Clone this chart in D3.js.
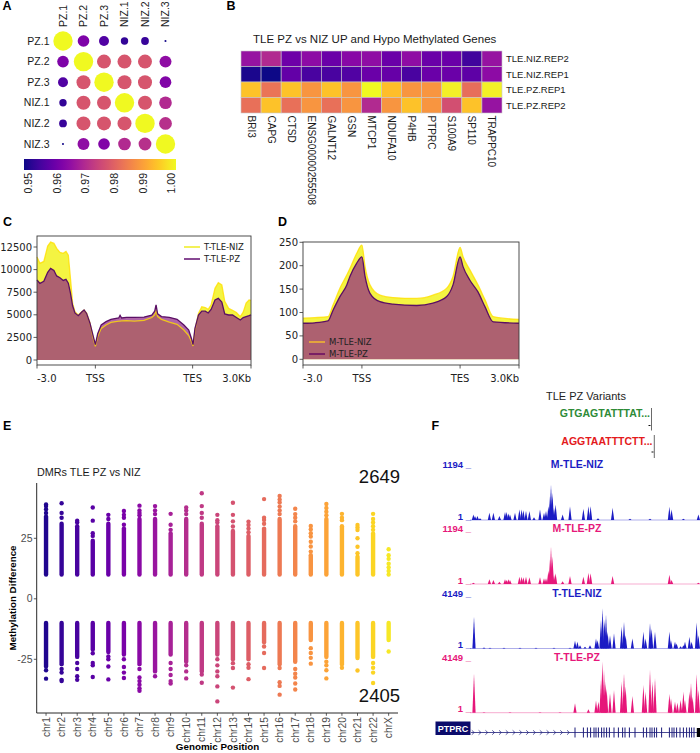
<!DOCTYPE html>
<html><head><meta charset="utf-8">
<script src="https://cdn.jsdelivr.net/npm/d3@7"></script>
<style>body{margin:0;background:#fff}svg{display:block}</style>
</head><body>
<svg id="fig" width="700" height="753"></svg>
<script>
// ---------------- DATA ----------------
// Panel A: correlation matrix
const corrLabels = ["PZ.1","PZ.2","PZ.3","NIZ.1","NIZ.2","NIZ.3"];
const corrValues = [
  [1.000,0.9625,0.957,0.9535,0.9540,0.9505],
  [0.9625,1.000,0.9775,0.9775,0.9775,0.9650],
  [0.957,0.9775,1.000,0.9775,0.9775,0.9630],
  [0.9535,0.9775,0.9775,1.000,0.9775,0.9700],
  [0.9540,0.9775,0.9775,0.9775,1.000,0.9710],
  [0.9505,0.9650,0.9630,0.9700,0.9710,1.000]
];
const colorbarTicks = [0.95,0.96,0.97,0.98,0.99,1.00];

// Panel B: heatmap (scaled, 0..1)
const heatGenes = ["BRI3","CAPG","CTSD","ENSG00000255508","GALNT12","GSN","MTCP1","NDUFA10","P4HB","PTPRC","S100A9","SP110","TRAPPC10"];
const heatSamples = ["TLE.NIZ.REP2","TLE.NIZ.REP1","TLE.PZ.REP1","TLE.PZ.REP2"];
const heatValues = [
  [0.32,0.40,0.21,0.29,0.20,0.28,0.30,0.20,0.30,0.20,0.20,0.10,0.32],
  [0.02,0.00,0.18,0.12,0.12,0.14,0.20,0.19,0.12,0.20,0.20,0.17,0.29],
  [0.87,0.65,0.87,0.75,0.87,0.75,1.00,0.86,0.75,0.75,0.98,0.63,0.98],
  [0.64,0.87,0.64,0.75,0.64,0.75,0.40,0.75,0.87,0.75,0.53,0.87,0.32]
];
const heatTitle = "TLE PZ vs NIZ UP and Hypo Methylated Genes";

// Panel C: T-TLE profiles (metagene kb: 0 = -3.0, 3 = TSS, 8 = TES, 11 = +3.0Kb)
const posC = [0,0.15,0.35,0.55,0.7,0.87,1.01,1.18,1.35,1.49,1.61,1.72,1.83,1.95,2.12,2.3,2.42,2.55,2.72,2.87,3.0,3.12,3.3,3.55,3.8,4.2,4.27,4.35,4.6,5.0,5.5,5.9,6.05,6.12,6.2,6.4,6.8,7.2,7.55,7.8,7.95,8.02,8.12,8.3,8.47,8.65,8.8,8.95,9.15,9.32,9.5,9.65,9.85,10.05,10.25,10.45,10.6,10.75,10.9,11.0];
const nizC = [11400,10700,10900,12600,13050,12900,12350,11900,11800,12000,11600,9000,6300,5340,4980,5350,5530,5200,4090,2580,1500,2600,3500,3870,4150,4300,4300,4330,4350,4300,4380,4700,5000,5400,4800,4500,4200,3950,3320,2700,2000,1550,3300,5160,5900,5800,5600,6100,7930,8550,8300,6500,5710,5500,5250,4790,5300,6300,6640,6600];
const pzC = [8850,8480,8700,9700,10140,9900,9300,9100,8800,8920,8500,7400,6000,5200,4900,5300,5530,5150,4090,2800,1700,2900,3870,4240,4500,4650,4950,4650,4720,4720,4750,4950,5400,6100,5100,4800,4720,4500,3870,3300,2300,1700,3500,4980,5400,5400,5200,5600,6640,6820,6400,5100,4980,4980,4700,4420,4700,4800,4900,4980];
const yTicksC = [0,2500,5000,7500,10000,12500];
const legendC = ["T-TLE-NIZ","T-TLE-PZ"];

// Panel D: M-TLE profiles
const posD = [0,0.6,1.27,1.53,1.88,2.23,2.39,2.73,3.0,3.16,3.41,3.92,4.58,5.79,6.62,7.32,7.64,8.0,8.15,8.5,8.91,9.27,9.69,11];
const nizD = [88,89,91,116,152,180,194,226,244,198,159,137,132,130,137,152,177,239,219,191,159,127,91,85];
const pzD = [77,78,82,105,134,159,177,205,219,177,141,123,118,115,120,134,159,219,198,169,144,112,80,77];
const yTicksD = [0,50,100,150,200,250];
const legendD = ["M-TLE-NIZ","M-TLE-PZ"];
const profileTicks = [[0,"-3.0"],[3,"TSS"],[8,"TES"],[11,"3.0Kb"]];

// Panel E: DMRs
const chroms = ["chr1","chr2","chr3","chr4","chr5","chr6","chr7","chr8","chr9","chr10","chr11","chr12","chr13","chr14","chr15","chr16","chr17","chr18","chr19","chr20","chr21","chr22","chrX"];
const denseHigh = [34,31,30,24,31,29,33,33,27,33,31,30,28,26,29,33,30,18,33,30,17.4,27,10];
const denseLow = [-28,-27,-24,-21,-22,-23,-27,-30,-23,-26,-30,-23,-25,-25,-18,-27,-26,-17,-24,-27,-24.5,-24,-17];
const outliersHigh = [
  [35.5,37,38.3,39],[33.5,35.5,39.5],[31.5,32.3],[26,27.1,32.3,37.7],[33,34.7],
  [30.6,33.5,34.7,36.3],[34.5,35.5,36.5,38.5],[35,36.5,38.3],[28.5,30.6,35.1],[35,36.5,37.7],
  [33.5,35.5,38.3,43.6],[31.5,32.5,34.7],[29.9,32,34.7,39.7],[27.5,29,30.5,31.9],[31,32.6,33.5,41.2],
  [35,36.5,38.1,39.8,41,42.5],[32,33.5,35,37.2],[19.5,21.6,23.6,25.7,27.1,28.7,30.1],[34.5,36,37.5,39.2],[32.5,33.5,35.1],
  [18.8,21.5,25,28.4,29.5,30.5],[28.5,30,31.5,33,35.1],[11.5,13,14.5,16.5,18,20.5]
];
const outliersLow = [
  [-29.5,-33],[-29,-30.5,-33.5,-34],[-26.5,-29,-32,-33.5],[-22.5,-26.5,-27.5,-32.3],[-23.8,-25,-28,-33.3],
  [-25,-28.2,-30.5,-32.7],[-29,-32.5,-34,-35.5,-37,-38],[-32],[-26.5,-29,-31.5,-34,-35],[-27.5,-30,-32.9],
  [-31.3,-34.7],[-25,-27.5,-30,-32,-36.2,-42.4],[-26.6,-28.6,-36.7],[-27,-28.5,-33.2],[-19.7,-22.4,-28.6],
  [-28.6,-34.5,-36,-39.6],[-29,-31,-32.5,-35,-37.5],[-20.4,-22.4,-24.4,-26.8],[-26,-27.5,-29.5,-32.9],[-28.5],
  [-29.6],[-26.5,-28.5,-30.5,-34.8],[-21.8]
];
const yTicksE = [-25,0,25];
const countUp = "2649", countDown = "2405";

// Panel F: genome browser (positions in kb across locus)
const variantSeqs = ["GTGAGTATTTAT...","AGGTAATTTCTT..."];
const trackNames = ["M-TLE-NIZ","M-TLE-PZ","T-TLE-NIZ","T-TLE-PZ"];
const trackMax = [1194,1194,4149,4149];
const trackMNIZ = [[1.7,126],[2.5,89],[3.7,89],[5,40],[9.7,163],[11.7,163],[14.7,89],[17.5,178],[18.3,178],[19.2,148],[20,126],[22.5,163],[24.7,237],[25.8,237],[26.7,222],[28,200],[29.7,200],[32,60],[35,237],[37,163],[38,200],[39.2,311],[40,534],[40.5,793],[41.2,608],[42,274],[42.8,348],[46.3,126],[50,311],[56.7,252],[59.2,311],[60.3,311],[64,40],[71.3,274],[80,30],[90,30],[99.7,296],[100.8,237],[106.7,30],[114.2,126]];
const trackMPZ = [[1.7,30],[9.7,105],[11.7,90],[14.7,53],[17.5,105],[18.3,90],[19.2,105],[20,90],[24.7,165],[25.8,165],[26.7,150],[28,165],[29.7,150],[35,150],[37,128],[38,128],[39.2,300],[40,560],[40.5,840],[41.2,620],[42,203],[42.8,240],[46.3,60],[50,180],[56.7,165],[59.2,255],[60.3,240],[71.3,180],[99.7,210],[100.8,90],[114.2,30]];
const trackTNIZ = [[2,2510],[7,79],[10,53],[17,53],[25,53],[33,53],[42,53],[50,53],[52.5,608],[53.7,529],[55,264],[57.5,132],[60,264],[63,793],[63.8,661],[65.5,2246],[66.3,3171],[67.2,2246],[68,2643],[68.8,1321],[70,1057],[72,1189],[75.8,1718],[77,2114],[77.8,1057],[81.2,793],[86.7,1321],[87.8,793],[90,1982],[90.8,1586],[92.5,1321],[99.7,1321],[100.5,661],[102.5,529],[103.3,396],[105.3,185],[106.7,264],[107.5,529],[109.7,925],[110.8,529],[113.3,2061],[114.2,1057]];
const trackTPZ = [[2,3099],[7,40],[20,30],[35,30],[45,30],[52.5,735],[59.2,263],[63,945],[64.2,866],[65.5,2573],[66.2,4017],[67,3361],[67.8,2442],[68.3,1917],[70,1523],[72,1786],[75.8,2442],[77,3099],[77.8,2048],[81.2,1313],[86.7,2180],[87.8,1654],[90,3361],[91.2,2442],[92.5,2705],[99.7,1470],[100.5,1129],[102.5,866],[103.7,788],[105.3,998],[106.7,1654],[107.5,998],[109.7,1654],[110.5,2311],[111.3,1260],[113.3,3046],[114.2,1786]];
const exonsKb = [52.5,56.7,58.7,60.3,62,63,64.2,65.8,67,68.3,69.7,72,74.2,76.3,77.5,79.7,82.5,86.7,88.3,90,91,92.2,93.3,95.8,99.7,101,102,103.3,105,106.7,108.3,109.7,110.8,112];
const geneName = "PTPRC";

// ---------------- DRAWING ----------------
const SANS = "'Liberation Sans', Arial, Helvetica, sans-serif";
const DEJA = "'DejaVu Sans', sans-serif";
const svg = d3.select("#fig");
svg.append("rect").attr("width",700).attr("height",753).attr("fill","#fff");
const defs = svg.append("defs");

// panel letters
[["A",2.5,10],["B",226.5,10],["C",3,226],["D",278,226],["E",3,429.5],["F",431.5,430]].forEach(([t,x,y])=>{
  svg.append("text").attr("x",x).attr("y",y).attr("font-family",SANS).attr("font-weight","bold").attr("font-size",12.5).text(t);
});

// ===== Panel A =====
{
  const g = svg.append("g").attr("font-family",SANS).attr("fill","#1a1a1a");
  const x = d3.scalePoint().domain(corrLabels).range([63,165.5]);
  const y = d3.scalePoint().domain(corrLabels).range([41,144]);
  const col = d3.scaleSequential(d3.interpolatePlasma).domain([0.95,1]);
  const r = d3.scaleLinear().domain([0.95,0.9535,0.957,0.9625,0.97,0.9775,1]).range([0.6,3.7,5,5.8,6.3,7,9.7]).clamp(true);
  corrLabels.forEach((rl,i)=>corrLabels.forEach((cl,j)=>{
    g.append("circle").attr("cx",x(cl)).attr("cy",y(rl)).attr("r",r(corrValues[i][j])).attr("fill",col(corrValues[i][j]));
  }));
  g.selectAll("text.rl").data(corrLabels).join("text").attr("class","rl")
    .attr("x",49.5).attr("y",d=>y(d)).attr("dy","0.35em").attr("text-anchor","end").attr("font-size",10.5).text(d=>d);
  g.selectAll("text.cl").data(corrLabels).join("text").attr("class","cl")
    .attr("transform",d=>`translate(${x(d)},27) rotate(-90)`).attr("dy","0.35em").attr("font-size",10.5).text(d=>d);
  const grad = defs.append("linearGradient").attr("id","plasmaGrad");
  d3.range(0,1.0001,0.05).forEach(t=>grad.append("stop").attr("offset",t).attr("stop-color",d3.interpolatePlasma(t)));
  g.append("rect").attr("x",24).attr("y",159).attr("width",152).attr("height",11).attr("fill","url(#plasmaGrad)");
  const cb = d3.scaleLinear().domain([0.95,1]).range([28.3,171.7]);
  g.selectAll("text.cb").data(colorbarTicks).join("text").attr("class","cb")
    .attr("transform",d=>`translate(${cb(d)},173) rotate(-90)`).attr("dy","0.35em").attr("text-anchor","end")
    .attr("font-size",10.5).text(d=>d.toFixed(2));
}

// ===== Panel B =====
{
  const g = svg.append("g").attr("font-family",SANS).attr("fill","#1a1a1a");
  const x = d3.scaleBand().domain(heatGenes).range([241,502]);
  const y = d3.scaleBand().domain(heatSamples).range([51,113]);
  const col = d3.scaleSequential(d3.interpolatePlasma).domain([0,1]);
  heatSamples.forEach((s,i)=>heatGenes.forEach((gn,j)=>{
    g.append("rect").attr("x",x(gn)).attr("y",y(s)).attr("width",x.bandwidth()).attr("height",y.bandwidth())
      .attr("fill",col(heatValues[i][j])).attr("stroke","#c9c9c9").attr("stroke-width",0.6);
  }));
  g.append("text").attr("x",253).attr("y",43).attr("font-size",11.5).text(heatTitle);
  g.selectAll("text.rl").data(heatSamples).join("text").attr("class","rl")
    .attr("x",506).attr("y",d=>y(d)+y.bandwidth()/2).attr("dy","0.35em").attr("font-size",9.5).text(d=>d);
  g.selectAll("text.cl").data(heatGenes).join("text").attr("class","cl")
    .attr("transform",d=>`translate(${x(d)+x.bandwidth()/2},115.5) rotate(90)`).attr("dy","0.35em")
    .attr("font-size",10).text(d=>d);
}

// ===== profile plot helper (C, D) =====
function profile(opt){
  const g = svg.append("g").attr("font-family",DEJA).attr("fill","#222");
  const x = d3.scaleLinear().domain([0,11]).range([opt.x0,opt.x1]);
  const y = d3.scaleLinear().domain([0,opt.topVal]).range([opt.y0,opt.yTop]);
  const dataN = opt.pos.map((p,i)=>[p,opt.niz[i]]);
  const dataP = opt.pos.map((p,i)=>[p,opt.pz[i]]);
  const curve = opt.curve;
  const area = d3.area().x(d=>x(d[0])).y0(y(0)).y1(d=>y(d[1])).curve(curve);
  const line = d3.line().x(d=>x(d[0])).y(d=>y(d[1])).curve(curve);
  g.append("path").attr("d",area(dataN)).attr("fill","#f4f442");
  g.append("path").attr("d",area(dataP)).attr("fill","#8f2284").attr("fill-opacity",0.7);
  g.append("path").attr("d",line(dataN)).attr("fill","none").attr("stroke","#ffe000").attr("stroke-opacity",0.8).attr("stroke-width",1.3);
  g.append("path").attr("d",line(dataP)).attr("fill","none").attr("stroke","#5a0f64").attr("stroke-width",1.3);
  g.append("rect").attr("x",opt.x0).attr("y",opt.frameTop).attr("width",opt.x1-opt.x0).attr("height",opt.frameBot-opt.frameTop)
    .attr("fill","none").attr("stroke","#3a3a3a").attr("stroke-width",0.9);
  opt.yTicks.forEach(t=>{
    g.append("line").attr("x1",opt.x0-3.5).attr("x2",opt.x0).attr("y1",y(t)).attr("y2",y(t)).attr("stroke","#333").attr("stroke-width",0.8);
    g.append("text").attr("x",opt.x0-5).attr("y",y(t)).attr("dy","0.35em").attr("text-anchor","end").attr("font-size",10).text(t);
  });
  profileTicks.forEach(([p,l],i)=>{
    g.append("line").attr("x1",x(p)).attr("x2",x(p)).attr("y1",opt.frameBot).attr("y2",opt.frameBot+3.5).attr("stroke","#333").attr("stroke-width",0.8);
    g.append("text").attr("x",x(p)).attr("y",opt.frameBot+16.5)
      .attr("text-anchor", i===0?"start":(i===profileTicks.length-1?"end":"middle")).attr("font-size",10).text(l);
  });
  opt.legend.forEach((l,i)=>{
    const ly = opt.legY + i*12;
    g.append("line").attr("x1",opt.legX).attr("x2",opt.legX+16).attr("y1",ly).attr("y2",ly)
      .attr("stroke",opt.legCols[i]).attr("stroke-width",1.6);
    g.append("text").attr("x",opt.legX+20).attr("y",ly).attr("dy","0.35em").attr("font-size",8.5).text(l);
  });
}
profile({x0:37,x1:251,y0:360,yTop:247,topVal:12500,frameTop:236,frameBot:365,pos:posC,niz:nizC,pz:pzC,
  yTicks:yTicksC,legend:legendC,legX:184,legY:247,legCols:["#f0ee30","#6a1b78"],curve:d3.curveLinear});
profile({x0:303,x1:519,y0:359.3,yTop:242.3,topVal:250,frameTop:242,frameBot:365,pos:posD,niz:nizD,pz:pzD,
  yTicks:yTicksD,legend:legendD,legX:309,legY:342,legCols:["#f2b531","#6d0f63"],curve:d3.curveMonotoneX});

// ===== Panel E =====
{
  const g = svg.append("g").attr("font-family",SANS);
  const x = d3.scalePoint().domain(chroms).range([36.7,398]).padding(0.6);
  const y = d3.scaleLinear().domain([-25,25]).range([659.3,538.3]);
  const col = i => d3.interpolatePlasma(0.03 + i*(0.93/22));
  chroms.forEach((c,i)=>{
    const cx = x(c), fill = col(i);
    [[10,denseHigh[i]],[-10,denseLow[i]]].forEach(([a,b])=>{
      if (Math.abs(b) > Math.abs(a)) {
        g.append("line").attr("x1",cx).attr("x2",cx).attr("y1",y(a)).attr("y2",y(b))
          .attr("stroke",fill).attr("stroke-width",4.4).attr("stroke-linecap","round");
      } else {
        g.append("circle").attr("cx",cx).attr("cy",y(a)).attr("r",2.2).attr("fill",fill);
      }
    });
    outliersHigh[i].concat(outliersLow[i]).forEach(v=>{
      g.append("circle").attr("cx",cx).attr("cy",y(v)).attr("r",2.2).attr("fill",fill);
    });
  });
  g.append("line").attr("x1",36.7).attr("x2",36.7).attr("y1",483).attr("y2",713).attr("stroke","#111").attr("stroke-width",0.9);
  g.append("line").attr("x1",36.7).attr("x2",398).attr("y1",713).attr("y2",713).attr("stroke","#111").attr("stroke-width",0.9);
  yTicksE.forEach(t=>{
    g.append("line").attr("x1",33.8).attr("x2",36.7).attr("y1",y(t)).attr("y2",y(t)).attr("stroke","#333").attr("stroke-width",0.8);
    g.append("text").attr("x",32.5).attr("y",y(t)).attr("dy","0.35em").attr("text-anchor","end").attr("font-size",10.5).attr("fill","#4d4d4d").text(t);
  });
  chroms.forEach(c=>{
    g.append("line").attr("x1",x(c)).attr("x2",x(c)).attr("y1",713).attr("y2",715.8).attr("stroke","#333").attr("stroke-width",0.8);
    g.append("text").attr("transform",`translate(${x(c)},717) rotate(-90)`).attr("dy","0.35em").attr("text-anchor","end")
      .attr("font-size",10.3).attr("fill","#4d4d4d").text(c);
  });
  g.append("text").attr("x",37).attr("y",476).attr("font-size",10.8).attr("fill","#1a1a1a").text("DMRs TLE PZ vs NIZ");
  g.append("text").attr("transform","translate(15.5,598) rotate(-90)").attr("text-anchor","middle").attr("font-weight","bold").attr("font-size",9.8).text("Methylation Difference");
  g.append("text").attr("x",217.5).attr("y",750).attr("text-anchor","middle").attr("font-weight","bold").attr("font-size",9.8).text("Genomic Position");
  g.append("text").attr("x",400).attr("y",483).attr("text-anchor","end").attr("font-size",18.5).attr("fill","#111").text(countUp);
  g.append("text").attr("x",400).attr("y",702).attr("text-anchor","end").attr("font-size",18.5).attr("fill","#111").text(countDown);
}

// ===== Panel F =====
{
  const g = svg.append("g").attr("font-family",SANS);
  const x = d3.scaleLinear().domain([0,115]).range([470,700]);
  const BLUE = "#1c1cc4", PINK = "#e6177a";
  g.append("text").attr("x",546).attr("y",400).attr("font-size",11).attr("fill","#222").text("TLE PZ Variants");
  const vcol = ["#2e8b37","#e41a1c"];
  [[650,417.3,651.5,408,430.5,648.5,425.5],[652.5,444.5,654.3,435,458,651.5,452]].forEach((v,i)=>{
    g.append("text").attr("x",v[0]).attr("y",v[1]).attr("text-anchor","end").attr("font-weight","bold").attr("font-size",10.5).attr("fill",vcol[i]).text(variantSeqs[i]);
    g.append("line").attr("x1",v[2]).attr("x2",v[2]).attr("y1",v[3]).attr("y2",v[4]).attr("stroke","#444").attr("stroke-width",0.8);
    g.append("line").attr("x1",v[5]).attr("x2",v[5]+2).attr("y1",v[6]).attr("y2",v[6]).attr("stroke","#111").attr("stroke-width",1);
  });
  const layout = [[467,520,BLUE,trackMNIZ],[531,584,PINK,trackMPZ],[596,648.5,BLUE,trackTNIZ],[660,712.7,PINK,trackTPZ]];
  layout.forEach(([top,base,c,data],k)=>{
    const y = d3.scaleLinear().domain([0,trackMax[k]]).range([base,top]);
    g.append("line").attr("x1",470).attr("x2",700).attr("y1",base).attr("y2",base).attr("stroke",c).attr("stroke-width",0.6).attr("stroke-opacity",0.6);
    data.forEach(([p,v])=>{
      const px = x(p), hw = 1.6;
      g.append("path").attr("d",`M${px-hw},${base}L${px},${y(v)}L${px+hw},${base}Z`).attr("fill",c);
    });
    g.append("text").attr("x",471).attr("y",top+0.5).attr("text-anchor","end").attr("font-weight","bold").attr("font-size",9.5).attr("fill",c).text(trackMax[k]+" _");
    g.append("text").attr("x",471).attr("y",base-0.5).attr("text-anchor","end").attr("font-weight","bold").attr("font-size",9.5).attr("fill",c).text("1 _");
    g.append("text").attr("x",577).attr("y",top+1).attr("text-anchor","middle").attr("font-weight","bold").attr("font-size",10.5).attr("fill",c).text(trackNames[k]);
  });
  // gene model
  const NAVY = "#1d1d7a";
  g.append("line").attr("x1",471).attr("x2",700).attr("y1",732.5).attr("y2",732.5).attr("stroke",NAVY).attr("stroke-width",0.8);
  d3.range(1.5,51,3.4).forEach(p=>{
    const px = x(p);
    g.append("path").attr("d",`M${px-1.2},${730.3}L${px+1.2},${732.5}L${px-1.2},${734.7}`).attr("fill","none").attr("stroke",NAVY).attr("stroke-width",0.7);
  });
  exonsKb.forEach(p=>{
    g.append("line").attr("x1",x(p)).attr("x2",x(p)).attr("y1",727.5).attr("y2",737.5).attr("stroke",NAVY).attr("stroke-width",1);
  });
  g.append("rect").attr("x",x(113.4)).attr("y",728).attr("width",x(115)-x(113.4)).attr("height",9).attr("fill","#000");
  g.append("rect").attr("x",435.5).attr("y",721.5).attr("width",35).attr("height",13.5).attr("fill","#0b0b6b");
  g.append("text").attr("x",453).attr("y",731.8).attr("text-anchor","middle").attr("font-weight","bold").attr("font-size",9).attr("fill","#fff").text(geneName);
}
</script>
</body></html>
